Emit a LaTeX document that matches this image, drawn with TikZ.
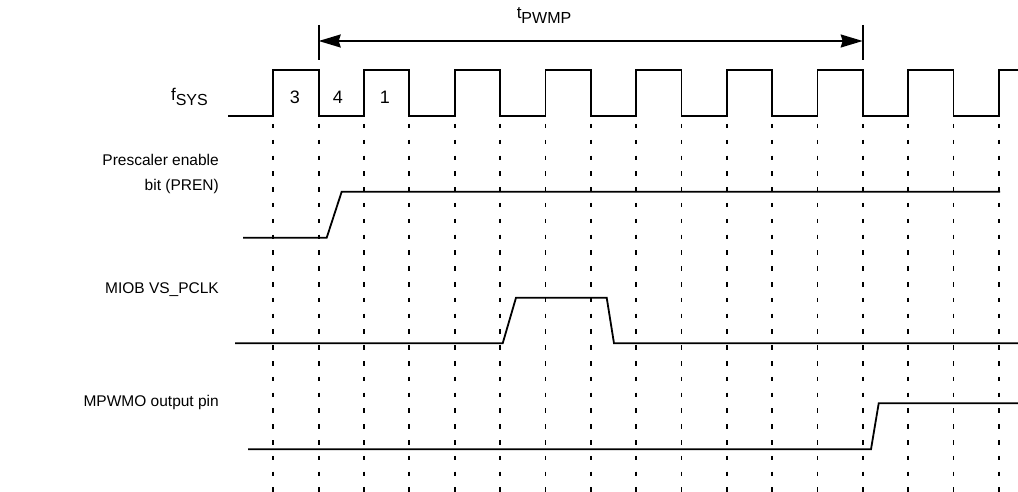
\documentclass[tikz,border=0pt]{standalone}
\usepackage{fontspec}
\setmainfont{Liberation Sans}
\usetikzlibrary{arrows.meta}
\newcommand{\sigsub}[1]{\raisebox{-5pt}{\fontsize{16}{16}\selectfont #1}}
\tikzset{
  sig/.style={line width=1.8pt, line join=miter},
  grid/.style={line width=1.8pt, dash pattern=on 4.5pt off 11.3pt},
  lbl/.style={anchor=east, align=right, inner sep=0pt, font=\fontsize{15.5}{25}\selectfont},
  num/.style={inner sep=0pt, font=\fontsize{18}{20}\selectfont}
}
\begin{document}
\begin{tikzpicture}[x=1pt, y=-1pt]
\useasboundingbox[fill=white] (0,0) rectangle (1018,492);
\foreach \k in {0,...,16}
  \draw[grid] ({273.3+45.35*\k},124) -- ({273.3+45.35*\k},492);
\draw[sig] (228,116) foreach \k in {0,2,...,14} {
  -- ({273.3+45.35*\k},116) -- ({273.3+45.35*\k},70)
  -- ({273.3+45.35*(\k+1)},70) -- ({273.3+45.35*(\k+1)},116)}
  -- (999,116) -- (999,70) -- (1018,70);
\node[num] (c3) at (295,97) {3};
\node[num] (c4) at (338,97) {4};
\node[num] (c1) at (385,97) {1};
\draw[sig] (243,237.7) -- (326.7,237.7) -- (341.7,191.7) -- (1000,191.7);
\draw[sig] (235,343.3) -- (502.7,343.3) -- (516,297.7) -- (606.7,297.7) -- (614,343.3) -- (1018,343.3);
\draw[sig] (248,449.3) -- (871,449.3) -- (878.7,403.3) -- (1018,403.3);
\node[lbl, font=\fontsize{17}{20}\selectfont] (fsys) at (208,97) {f\sigsub{SYS}};
\node[lbl] (pren) at (219,174) {Prescaler enable\\bit (PREN)};
\node[lbl] (miob) at (219,290) {MIOB VS\_PCLK};
\node[lbl] (mpwmo) at (219,402) {MPWMO output pin};
\coordinate (tl) at (318.7,41);
\coordinate (tr) at (862.7,41);
\draw[sig] (318.7,25) -- (318.7,60);
\draw[sig] (862.7,25) -- (862.7,60);
\draw[sig, {Stealth[length=22pt,width=13pt,inset=2pt]}-{Stealth[length=22pt,width=13pt,inset=2pt]}] (tl) -- (tr);
\node[num, font=\fontsize{17}{20}\selectfont] (tpwmp) at (544,16) {t\sigsub{PWMP}};
\end{tikzpicture}
\end{document}
